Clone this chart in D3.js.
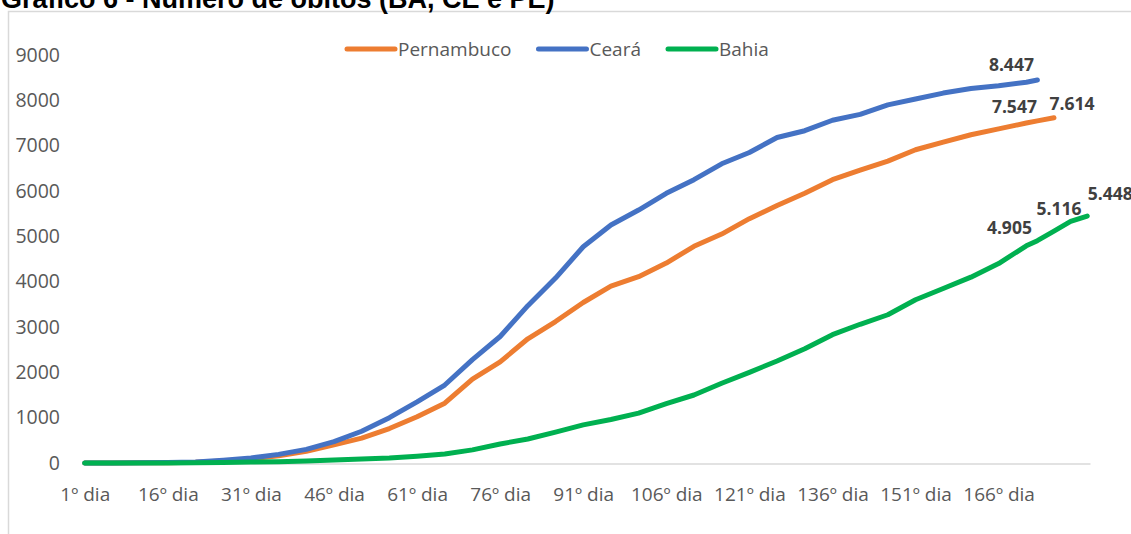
<!DOCTYPE html>
<html>
<head>
<meta charset="utf-8">
<script src="https://cdn.jsdelivr.net/npm/d3@7/dist/d3.min.js"></script>
<style>
  body { margin: 0; background: #fff; }
  text { font-family: "Open Sans", sans-serif; }
  text.title { font-family: "Liberation Sans", Arial, sans-serif; }
</style>
</head>
<body>
<svg id="chart" width="1131" height="534"></svg>
<script>
let days = [1, 6, 11, 16, 21, 26, 31, 36, 41, 46, 51, 56, 61, 66, 71, 76, 81, 86, 91, 96,
            101, 106, 111, 116, 121, 126, 131, 136, 141, 146, 151, 156, 161, 166, 171,
            173, 176, 179, 182];
let nDays = 182;

let pernambuco = [0, 1, 3, 8, 18, 45, 90, 160, 260, 400, 550, 760, 1020, 1320, 1850, 2230, 2740, 3120, 3540, 3900,
                  4110, 4410, 4780, 5050, 5390, 5680, 5950, 6250, 6460, 6660, 6910, 7080, 7240, 7370, 7500,
                  7547, 7614, null, null];
let ceara = [0, 2, 5, 10, 20, 60, 110, 190, 300, 470, 700, 1000, 1350, 1720, 2280, 2790, 3470, 4080, 4770, 5250,
             5580, 5950, 6250, 6600, 6850, 7180, 7330, 7560, 7690, 7900, 8030, 8160, 8260, 8320, 8400,
             8447, null, null, null];
let bahia = [0, 0, 1, 2, 5, 10, 20, 30, 45, 65, 90, 110, 150, 200, 290, 420, 530, 680, 840, 960,
             1100, 1310, 1500, 1760, 2000, 2250, 2520, 2830, 3060, 3270, 3600, 3850, 4100, 4400, 4790,
             4905, 5116, 5330, 5448];

let seriesNames = ["Pernambuco", "Ceará", "Bahia"];
let seriesColors = ["#ED7D31", "#4472C4", "#00B050"];
let tickDays = [1, 16, 31, 46, 61, 76, 91, 106, 121, 136, 151, 166];
let yTicks = [0, 1000, 2000, 3000, 4000, 5000, 6000, 7000, 8000, 9000];

// data labels: which series, which day
let labelSeries = [1, 0, 0, 2, 2, 2];
let labelDays = [173, 173, 176, 173, 176, 182];
// label offsets from the point
let labelDx = [-26, -23, 18, -28, 5, 23];
let labelDy = [-9, -8, -8, -7, -16, -16];

let series = [pernambuco, ceara, bahia];
let br = d3.formatLocale({decimal: ",", thousands: ".", grouping: [3], currency: ["R$", ""]});
let fmt = br.format(",d");

let svg = d3.select("#chart");

let x = d3.scaleLinear().domain([0.5, nDays + 0.5]).range([82, 1090]),
    y = d3.scaleLinear().domain([0, 9000]).range([463, 55]);

// chart frame
svg.append("rect")
    .attr("x", 8.5)
    .attr("y", 11.5)
    .attr("width", 1300)
    .attr("height", 700)
    .attr("fill", "none")
    .attr("stroke", "#d9d9d9")
    .attr("stroke-width", 1.5);

// title (cut at the top, as in the source)
svg.append("text")
    .attr("class", "title")
    .attr("x", 1)
    .attr("y", 8)
    .attr("font-weight", "bold")
    .attr("font-size", "27px")
    .attr("fill", "#000")
    .text("Gráfico 6 - Número de óbitos (BA, CE e PE)");

// y axis
let yAxis = svg.append("g")
    .attr("transform", "translate(60,0)")
    .call(d3.axisLeft(y).tickValues(yTicks).tickSize(0).tickPadding(0).tickFormat(function(d) { return d; }));
yAxis.select(".domain").remove();
yAxis.selectAll("text")
    .attr("font-size", "19.5px")
    .attr("font-family", "'Open Sans', sans-serif")
    .attr("fill", "#595959");

// x axis
let xAxis = svg.append("g")
    .attr("transform", "translate(0,463.5)")
    .call(d3.axisBottom(x).tickValues(tickDays).tickSize(0).tickSizeOuter(0).tickPadding(24)
        .tickFormat(function(d) { return d + "º dia"; }));
xAxis.select(".domain")
    .attr("stroke", "#d9d9d9")
    .attr("stroke-width", 1.5);
xAxis.selectAll("text")
    .attr("font-size", "19px")
    .attr("font-family", "'Open Sans', sans-serif")
    .attr("fill", "#595959");

// lines
let line = d3.line()
    .defined(function(d) { return d.v !== null; })
    .x(function(d) { return x(d.day); })
    .y(function(d) { return y(d.v); });

series.forEach(function(vals, i) {
    let pts = days.map(function(day, j) { return {day: day, v: vals[j]}; });
    svg.append("path")
        .datum(pts)
        .attr("fill", "none")
        .attr("stroke", seriesColors[i])
        .attr("stroke-width", 5)
        .attr("stroke-linejoin", "round")
        .attr("stroke-linecap", "round")
        .attr("d", line);
});

// legend
let lx = 345;
seriesNames.forEach(function(name, i) {
    svg.append("line")
        .attr("x1", lx + 2).attr("x2", lx + 50)
        .attr("y1", 49).attr("y2", 49)
        .attr("stroke", seriesColors[i])
        .attr("stroke-width", 5)
        .attr("stroke-linecap", "round");
    let t = svg.append("text")
        .attr("x", lx + 53)
        .attr("y", 56)
        .attr("font-size", "19px")
        .attr("fill", "#595959")
        .text(name);
    lx = lx + 53 + t.node().getComputedTextLength() + 25;
});

// data labels
labelSeries.forEach(function(s, i) {
    let j = days.indexOf(labelDays[i]);
    let v = series[s][j];
    svg.append("text")
        .attr("x", x(labelDays[i]) + labelDx[i])
        .attr("y", y(v) + labelDy[i])
        .attr("text-anchor", "middle")
        .attr("font-size", "17.5px")
        .attr("font-weight", "bold")
        .attr("fill", "#404040")
        .text(fmt(v));
});
</script>
</body>
</html>
